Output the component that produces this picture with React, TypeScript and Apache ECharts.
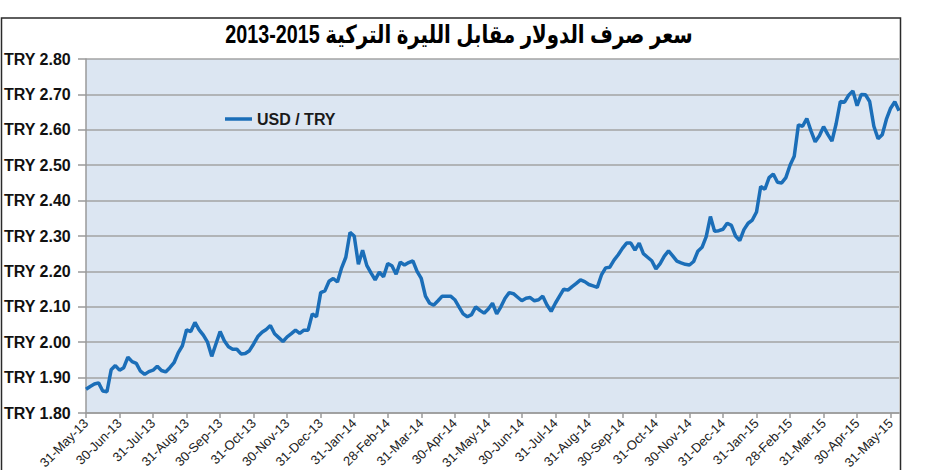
import React, { useEffect, useRef } from 'react';
import * as echarts from 'echarts';

const titleText = '2013-2015 سعر صرف الدولار مقابل الليرة التركية';
const seriesName = 'USD / TRY';

const tickLabels = [
  '31-May-13', '30-Jun-13', '31-Jul-13', '31-Aug-13', '30-Sep-13', '31-Oct-13',
  '30-Nov-13', '31-Dec-13', '31-Jan-14', '28-Feb-14', '31-Mar-14', '30-Apr-14',
  '31-May-14', '30-Jun-14', '31-Jul-14', '31-Aug-14', '30-Sep-14', '31-Oct-14',
  '30-Nov-14', '31-Dec-14', '31-Jan-15', '28-Feb-15', '31-Mar-15', '30-Apr-15',
  '31-May-15',
];

const pointsPerTick = 8;

const rates = [
  1.867, 1.875, 1.882, 1.885, 1.862, 1.86, 1.922, 1.934,
  1.921, 1.928, 1.958, 1.945, 1.94, 1.918, 1.909, 1.917,
  1.921, 1.932, 1.92, 1.916, 1.928, 1.942, 1.97, 1.99,
  2.035, 2.03, 2.056, 2.035, 2.02, 2.0, 1.96, 1.995,
  2.03, 2.004, 1.987, 1.98, 1.98, 1.967, 1.968, 1.976,
  1.995, 2.016, 2.028, 2.036, 2.047, 2.024, 2.013, 2.002,
  2.015, 2.024, 2.034, 2.025, 2.034, 2.034, 2.08, 2.072,
  2.14, 2.145, 2.172, 2.18, 2.17, 2.21, 2.24, 2.31,
  2.30, 2.22, 2.26, 2.217, 2.196, 2.176, 2.198, 2.185,
  2.222, 2.216, 2.192, 2.226, 2.218, 2.225, 2.23, 2.20,
  2.18, 2.13, 2.11, 2.105, 2.117, 2.13, 2.13, 2.13,
  2.12, 2.10, 2.08, 2.072, 2.078, 2.10, 2.09, 2.082,
  2.094, 2.11, 2.08, 2.10, 2.124, 2.14, 2.137, 2.127,
  2.117, 2.124, 2.126, 2.117, 2.12, 2.13, 2.105, 2.087,
  2.11, 2.13, 2.15, 2.147, 2.157, 2.166, 2.176, 2.171,
  2.163, 2.159, 2.155, 2.19, 2.21, 2.212, 2.232, 2.247,
  2.265, 2.28, 2.28, 2.26, 2.28, 2.25, 2.24, 2.23,
  2.207, 2.222, 2.243, 2.258, 2.244, 2.229, 2.224, 2.22,
  2.218, 2.228, 2.257, 2.268, 2.298, 2.355, 2.313, 2.315,
  2.319, 2.336, 2.33, 2.30, 2.287, 2.318, 2.336, 2.345,
  2.368, 2.44, 2.432, 2.465, 2.475, 2.452, 2.45, 2.465,
  2.50, 2.525, 2.614, 2.61, 2.632, 2.597, 2.566, 2.583,
  2.609, 2.587, 2.568, 2.617, 2.68, 2.678, 2.698, 2.71,
  2.668, 2.70, 2.699, 2.68, 2.61, 2.575, 2.586, 2.63,
  2.661, 2.679, 2.654,
];

const yMin = 1.8;
const yMax = 2.8;
const yStep = 0.1;

const categories = rates.map((_, i) => String(i));

export default function App() {
  const ref = useRef<HTMLDivElement>(null);

  useEffect(() => {
    const chart = echarts.init(ref.current as HTMLDivElement, undefined, { renderer: 'svg' });
    const font = '"Liberation Sans", Arial, "DejaVu Sans", sans-serif';
    chart.setOption({
      animation: false,
      backgroundColor: '#ffffff',
      textStyle: { fontFamily: font },
      grid: {
        left: 86,
        right: 39,
        top: 59,
        bottom: 57,
        show: true,
        containLabel: false,
        outerBoundsMode: 'none',
        backgroundColor: '#dce6f2',
        borderWidth: 0,
      },
      legend: {
        left: 220,
        top: 106,
        icon: 'rect',
        itemWidth: 27,
        itemHeight: 3.5,
        itemGap: 6,
        itemStyle: { color: '#1b6eb8' },
        textStyle: { fontFamily: font, fontWeight: 'bold', fontSize: 16, color: '#1a1a1a' },
        data: [seriesName],
      },
      xAxis: {
        type: 'category',
        boundaryGap: false,
        data: categories,
        axisLine: { show: true, lineStyle: { color: '#9a9a9a', width: 1.5 } },
        axisTick: {
          show: true,
          interval: pointsPerTick - 1,
          length: 5,
          lineStyle: { color: '#9a9a9a', width: 1.5 },
        },
        axisLabel: {
          interval: pointsPerTick - 1,
          rotate: 45,
          margin: 8,
          fontSize: 13,
          color: '#222',
          fontFamily: font,
          formatter: (_v: string, idx: number) => tickLabels[Math.round(idx / pointsPerTick)] ?? '',
        },
        splitLine: { show: false },
      },
      yAxis: {
        type: 'value',
        min: yMin,
        max: yMax,
        interval: yStep,
        axisLine: { show: true, lineStyle: { color: '#9a9a9a', width: 1.5 } },
        axisTick: { show: true, length: 8, lineStyle: { color: '#9a9a9a', width: 1.5 } },
        axisLabel: {
          align: 'left',
          margin: 82,
          fontSize: 16,
          fontWeight: 'bold',
          color: '#111',
          fontFamily: font,
          formatter: (v: number) => 'TRY ' + v.toFixed(2),
        },
        splitLine: { show: true, lineStyle: { color: '#a3a3a3', width: 1.6 } },
      },
      series: [
        {
          name: seriesName,
          type: 'line',
          data: rates,
          symbol: 'none',
          lineStyle: { color: '#1b6eb8', width: 3.5 },
          itemStyle: { color: '#1b6eb8' },
        },
      ],
      graphic: [
        {
          type: 'rect',
          shape: { x: 1.5, y: 18, width: 899, height: 470 },
          style: { fill: 'none', stroke: '#2a2a2a', lineWidth: 1.5 },
          z: 100,
          silent: true,
        },
        {
          type: 'text',
          x: 459,
          y: 35,
          scaleX: 0.79,
          style: {
            text: titleText,
            fill: '#000',
            font: 'bold 25px "Liberation Sans", "DejaVu Sans", sans-serif',
            textAlign: 'center',
            textVerticalAlign: 'middle',
          },
          z: 100,
        },
      ],
    });
    return () => chart.dispose();
  }, []);

  return (
    <div
      ref={ref}
      style={{ position: 'fixed', left: 0, top: 0, width: 938, height: 470, background: '#fff' }}
    />
  );
}
